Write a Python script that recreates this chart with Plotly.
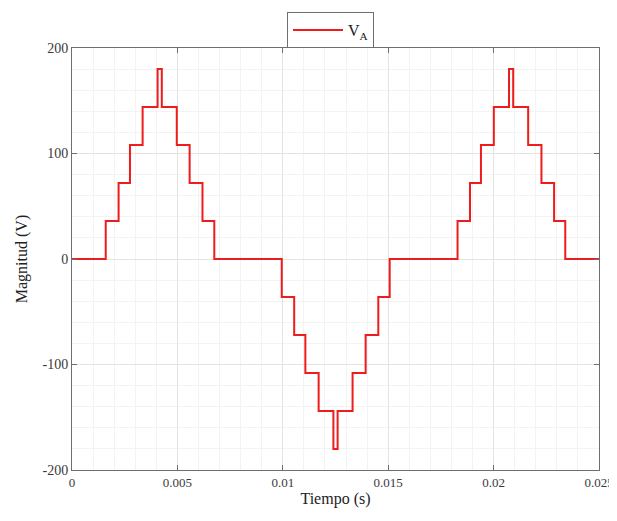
import plotly.graph_objects as go

# Step transition times (s) and the voltage level held from each time onward (V)
t_steps = [0.0,
           0.00160, 0.00221, 0.00275, 0.00335, 0.00406, 0.00426, 0.00497, 0.00558, 0.00619, 0.00675,
           0.00995, 0.01054, 0.01107, 0.01170, 0.01240, 0.01260, 0.01331, 0.01393, 0.01453, 0.01507,
           0.01829, 0.01888, 0.01940, 0.02001, 0.02073, 0.02093, 0.02164, 0.02227, 0.02287, 0.02340,
           0.025]
v_levels = [0,
            36, 72, 108, 144, 180, 144, 108, 72, 36, 0,
            -36, -72, -108, -144, -180, -144, -108, -72, -36, 0,
            36, 72, 108, 144, 180, 144, 108, 72, 36, 0,
            0]

x_ticks = [0, 0.005, 0.01, 0.015, 0.02, 0.025]
x_tick_text = ["0", "0.005", "0.01", "0.015", "0.02", "0.025"]
y_ticks = [-200, -100, 0, 100, 200]
y_tick_text = ["-200", "-100", "0", "100", "200"]

font_family = "Liberation Serif, Times New Roman, serif"

fig = go.Figure()
fig.add_trace(go.Scatter(
    x=t_steps, y=v_levels, mode="lines", line_shape="hv",
    line=dict(color="#ee1c1c", width=2), name="V<sub>A</sub>",
))

axis_common = dict(
    showline=True, linecolor="#6e6e6e", linewidth=1, mirror="ticks",
    ticks="inside", ticklen=5, tickcolor="#6e6e6e",
    showgrid=True, gridcolor="#e3e3e3", gridwidth=1,
    zeroline=False, automargin=False,
)

fig.update_layout(
    width=609, height=513,
    margin=dict(l=64, r=18, t=40, b=51, autoexpand=False),
    paper_bgcolor="white", plot_bgcolor="white",
    showlegend=True,
    legend=dict(
        x=0.408, y=1.0, xanchor="left", yanchor="bottom",
        bordercolor="#6e6e6e", borderwidth=1, bgcolor="white",
        font=dict(family=font_family, size=16, color="#222222"),
        itemwidth=50,
    ),
    xaxis=dict(
        range=[0, 0.025], tickvals=x_ticks, ticktext=x_tick_text,
        tickfont=dict(family=font_family, size=13, color="#3a3a3a"),
        minor=dict(dtick=0.001, showgrid=True, gridcolor="#f3f3f3", ticks=""),
        title=dict(text="Tiempo (s)", font=dict(family=font_family, size=16, color="#222222"), standoff=4),
        **axis_common,
    ),
    yaxis=dict(
        range=[-200, 200], tickvals=y_ticks, ticktext=y_tick_text,
        tickfont=dict(family=font_family, size=14, color="#3a3a3a"),
        minor=dict(dtick=20, showgrid=True, gridcolor="#f3f3f3", ticks=""),
        title=dict(text="Magnitud (V)", font=dict(family=font_family, size=16, color="#222222"), standoff=10),
        **axis_common,
    ),
)

fig.write_html("out.html")
